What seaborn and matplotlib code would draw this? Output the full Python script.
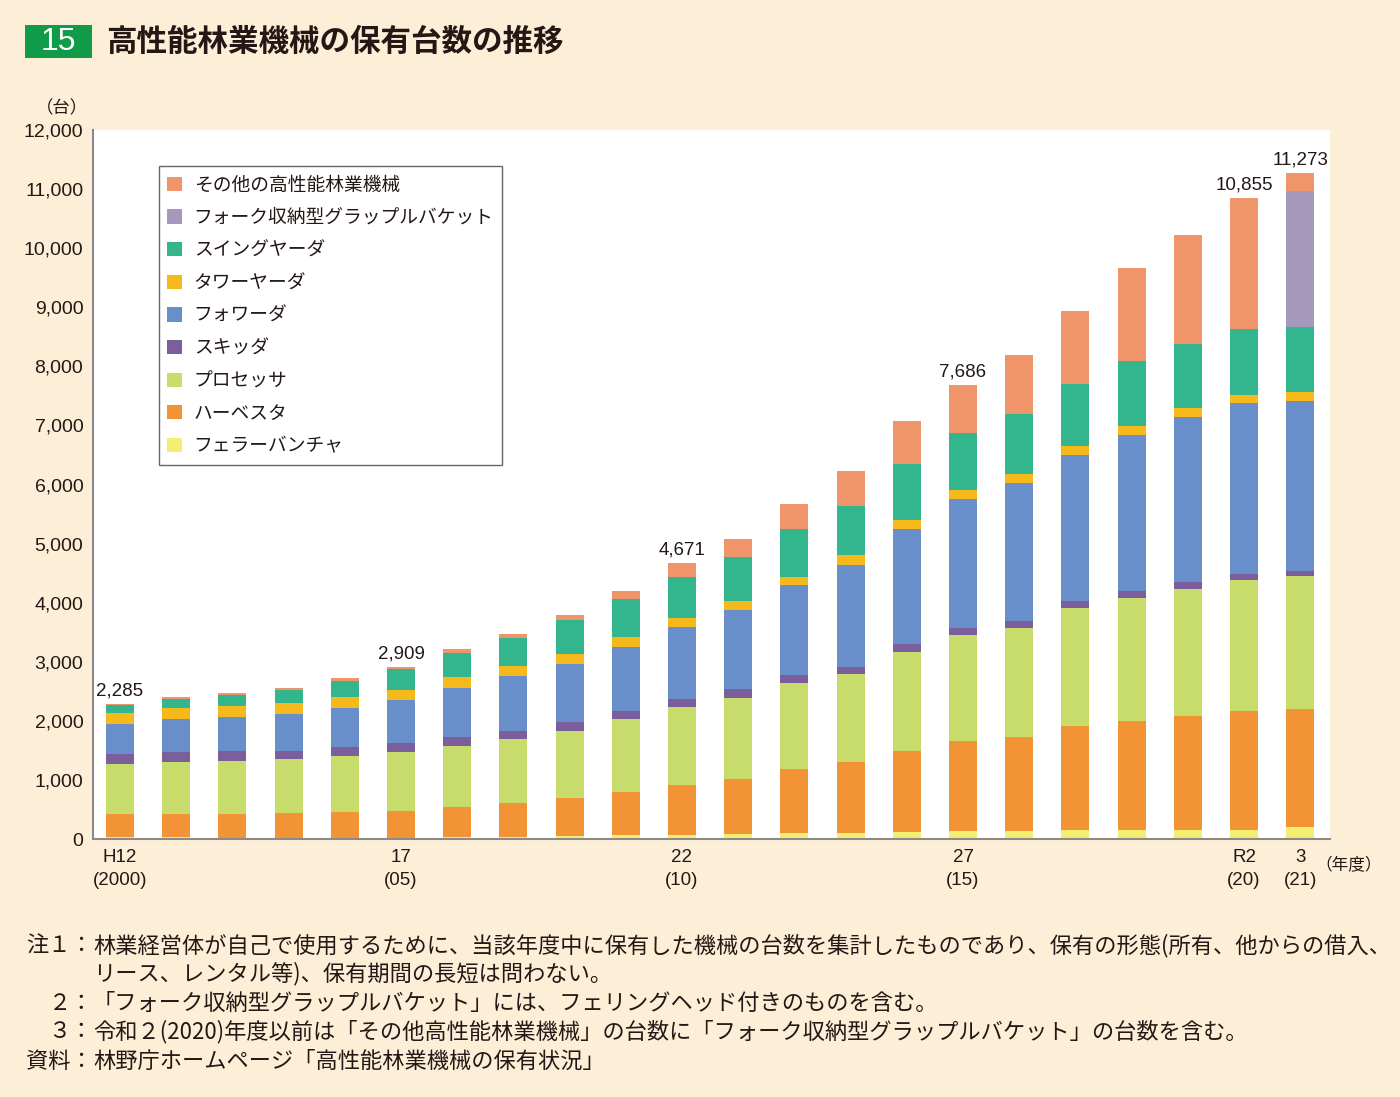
import numpy as np
import pandas as pd
import matplotlib.pyplot as plt
import seaborn as sns
from matplotlib.patches import Patch, Rectangle

# Fiscal years H12 (2000) .. R3 (2021)
years = ["H12", "H13", "H14", "H15", "H16", "H17", "H18", "H19", "H20", "H21", "H22",
         "H23", "H24", "H25", "H26", "H27", "H28", "H29", "H30", "R1", "R2", "R3"]
tick_years = ["H12", "H17", "H22", "H27", "R2", "R3"]
tick_labels = ["H12\n(2000)", "17\n(05)", "22\n(10)", "27\n(15)", "R2\n(20)", "3\n(21)"]
labeled_years = ["H12", "H17", "H22", "H27", "R2", "R3"]

# units held per machine type
feller = [30, 30, 25, 25, 25, 25, 30, 40, 50, 60, 70, 85, 95, 105, 120, 130, 135, 145, 145, 150, 155, 195]
harvester = [393, 398, 403, 415, 437, 449, 511, 564, 649, 730, 849, 935, 1089, 1193, 1374, 1523, 1588,
             1770, 1854, 1926, 2006, 2004]
processor = [851, 870, 892, 909, 948, 993, 1038, 1088, 1134, 1240, 1314, 1371, 1450, 1489, 1675, 1808,
             1853, 1992, 2077, 2161, 2222, 2246]
skidder = [169, 174, 169, 145, 152, 163, 147, 141, 142, 131, 136, 142, 141, 128, 130, 115, 115, 115,
           115, 108, 108, 92]
forwarder = [508, 558, 575, 621, 655, 722, 829, 925, 991, 1088, 1213, 1347, 1523, 1726, 1951, 2184,
             2330, 2484, 2653, 2799, 2884, 2868]
tower = [186, 187, 192, 186, 186, 174, 186, 164, 164, 164, 152, 152, 140, 159, 152, 154, 154, 146,
         154, 146, 146, 154]
swing = [135, 157, 180, 220, 276, 345, 406, 484, 570, 643, 699, 745, 802, 840, 943, 961, 1015, 1053,
         1084, 1084, 1115, 1115]
fork = [0, 0, 0, 0, 0, 0, 0, 0, 0, 0, 0, 0, 0, 0, 0, 0, 0, 0, 0, 0, 0, 2292]
other = [13, 29, 34, 34, 45, 38, 68, 57, 95, 135, 238, 304, 428, 587, 733, 811, 1008, 1231, 1577,
         1854, 2219, 307]

# stacking order bottom -> top
series = [
    ("フェラーバンチャ", feller, "#f3ef73"),
    ("ハーベスタ", harvester, "#f29436"),
    ("プロセッサ", processor, "#c8dc6c"),
    ("スキッダ", skidder, "#7a5f9c"),
    ("フォワーダ", forwarder, "#688fc9"),
    ("タワーヤーダ", tower, "#f5b91c"),
    ("スイングヤーダ", swing, "#33b68d"),
    ("フォーク収納型グラップルバケット", fork, "#a599bb"),
    ("その他の高性能林業機械", other, "#f0956a"),
]

df = pd.DataFrame({name: vals for name, vals, _ in series}, index=years)
cum = df.cumsum(axis=1)
totals = df.sum(axis=1)

bg = "#fdefd7"
ink = "#231815"
axis_gray = "#8a8a8a"
num_font = ["Liberation Sans", "DejaVu Sans"]

sns.set_style("white")
plt.rcParams["font.family"] = ["Noto Sans CJK JP", "DejaVu Sans"]

fig = plt.figure(figsize=(14, 10.97), dpi=100, facecolor=bg)
ax = fig.add_axes([93 / 1400, 1 - 839 / 1097, 1237 / 1400, 709 / 1097])
ax.set_facecolor("white")

# overlay cumulative bars, tallest first, so each segment shows its own colour
for name, _, color in reversed(series):
    sns.barplot(x=years, y=cum[name].values, order=years, color=color, saturation=1,
                width=0.5, errorbar=None, linewidth=0, ax=ax)

for yr in labeled_years:
    i = years.index(yr)
    ax.text(i, totals[yr] + 70, f"{totals[yr]:,}", ha="center", va="bottom",
            fontsize=13.5, color=ink, family=num_font)

ax.set_xlim(-0.48, 21.53)
ax.set_ylim(0, 12000)
ax.set_yticks(np.arange(0, 12001, 1000))
ax.set_yticklabels([f"{v:,}" for v in range(0, 12001, 1000)], fontsize=14, color=ink,
                   family=num_font)
ax.set_xticks([years.index(y) for y in tick_years])
ax.set_xticklabels(tick_labels, fontsize=13.5, color=ink, linespacing=1.5, family=num_font)
ax.set_xticks(np.arange(0.5, 21, 1), minor=True)
ax.tick_params(axis="x", which="major", length=0, pad=7)
ax.tick_params(axis="x", which="minor", direction="in", length=6, width=1.2, color=axis_gray)
ax.tick_params(axis="y", which="major", direction="out", length=5, width=1.2, color=axis_gray, pad=2)
ax.set_xlabel("")
ax.set_ylabel("")

for side in ["top", "right"]:
    ax.spines[side].set_visible(False)
for side in ["left", "bottom"]:
    ax.spines[side].set_color(axis_gray)
    ax.spines[side].set_linewidth(1.5)

# legend, top layer first
handles = [Patch(facecolor=c, edgecolor="none") for _, _, c in reversed(series)]
labels = [n for n, _, _ in reversed(series)]
leg = ax.legend(handles, labels, loc="upper left", bbox_to_anchor=(66 / 1237, 1 - 36 / 709),
                frameon=True, fancybox=False, edgecolor="#666666", framealpha=1,
                fontsize=13.5, handlelength=0.8, handleheight=0.8, labelspacing=0.62,
                borderpad=0.45, handletextpad=0.6, borderaxespad=0)
leg.get_frame().set_linewidth(1.0)
for t in leg.get_texts():
    t.set_color(ink)


def fx(px):
    return px / 1400


def fy(py):
    return 1 - py / 1097


# title block
fig.patches.append(Rectangle((fx(25), fy(58)), 67 / 1400, 33 / 1097, transform=fig.transFigure,
                             facecolor="#0f9b48", edgecolor="none"))
fig.text(fx(58.5), fy(42), "15", ha="center", va="center", fontsize=23, color="white",
         family=num_font)
fig.text(fx(106), fy(42), "高性能林業機械の保有台数の推移", ha="left", va="center",
         fontsize=22, fontweight="bold", color=ink)

fig.text(fx(62), fy(108), "（台）", ha="center", va="center", fontsize=12.5, color=ink)
fig.text(fx(1349), fy(866), "（年度）", ha="center", va="center", fontsize=12, color=ink)

# notes
notes = [
    ("注１：", "林業経営体が自己で使用するために、当該年度中に保有した機械の台数を集計したものであり、保有の形態(所有、他からの借入、", 946),
    ("", "リース、レンタル等)、保有期間の長短は問わない。", 974),
    ("２：", "「フォーク収納型グラップルバケット」には、フェリングヘッド付きのものを含む。", 1003),
    ("３：", "令和２(2020)年度以前は「その他高性能林業機械」の台数に「フォーク収納型グラップルバケット」の台数を含む。", 1032),
    ("資料：", "林野庁ホームページ「高性能林業機械の保有状況」", 1061),
]
for head, body, py in notes:
    if head:
        fig.text(fx(93), fy(py), head, ha="right", va="center", fontsize=16, color=ink)
    fig.text(fx(93), fy(py), body, ha="left", va="center", fontsize=16, color=ink)

fig.savefig("out.png", dpi=100, facecolor=bg)
